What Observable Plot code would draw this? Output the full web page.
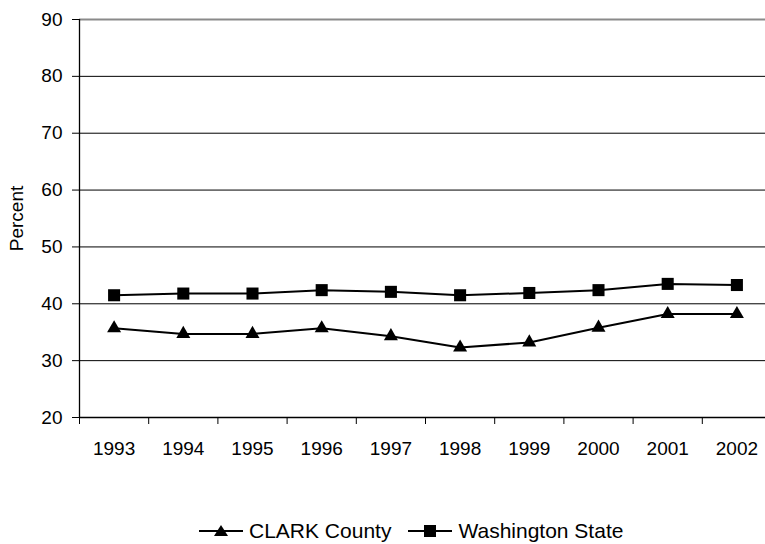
<!DOCTYPE html>
<html><head><meta charset="utf-8">
<script src="https://cdn.jsdelivr.net/npm/d3@7"></script>
<script src="https://cdn.jsdelivr.net/npm/@observablehq/plot@0.6"></script>
<style>
body{margin:0;background:#fff;font-family:"Liberation Sans",Arial,sans-serif;color:#000;}
#chart svg{overflow:hidden;display:block;}
#legend{box-sizing:border-box;height:74px;padding-top:48px;padding-left:199px;display:flex;align-items:center;}
#legend .item{display:flex;align-items:center;height:26px;font-size:21px;margin-right:17px;}
#legend svg{display:block;margin-right:6px;}
</style></head><body>
<div id="chart"></div>
<div id="legend"></div>
<script>
const years = [1993, 1994, 1995, 1996, 1997, 1998, 1999, 2000, 2001, 2002];
const clarkCounty = [35.7, 34.7, 34.7, 35.7, 34.3, 32.3, 33.2, 35.8, 38.2, 38.2];
const washingtonState = [41.5, 41.8, 41.8, 42.4, 42.1, 41.5, 41.9, 42.4, 43.5, 43.3];
const seriesNames = ["CLARK County", "Washington State"];
const yTicks = [20, 30, 40, 50, 60, 70, 80, 90];
const yLabel = "Percent";

const clarkData = years.map((y, i) => ({year: y, value: clarkCounty[i], series: seriesNames[0]}));
const waData = years.map((y, i) => ({year: y, value: washingtonState[i], series: seriesNames[1]}));
const boundaries = years.map(y => y - 0.5).concat([years[years.length - 1] + 0.5]);
const xDomain = [boundaries[0], boundaries[boundaries.length - 1]];

const chart = Plot.plot({
  width: 765,
  height: 470,
  marginLeft: 79,
  marginRight: 0,
  marginTop: 19,
  marginBottom: 53,
  style: {fontFamily: '"Liberation Sans", Arial, sans-serif', fontSize: "19px", color: "#000", background: "#fff"},
  x: {type: "linear", domain: xDomain, range: [79, 771]},
  y: {domain: [yTicks[0], yTicks[yTicks.length - 1]]},
  marks: [
    Plot.gridY(yTicks.slice(1, -1), {stroke: "#000", strokeOpacity: 1, strokeWidth: 1}),
    Plot.ruleY([yTicks[yTicks.length - 1]], {stroke: "#8a8a8a", strokeWidth: 2}),
    Plot.ruleX([xDomain[0]], {stroke: "#000", strokeWidth: 1.3}),
    Plot.ruleY([yTicks[0]], {stroke: "#000", strokeWidth: 1.5}),
    Plot.axisY(yTicks, {tickSize: 7, tickPadding: 10, fontSize: 19, label: yLabel, labelAnchor: "center", labelArrow: "none", labelOffset: 70}),
    Plot.axisX(boundaries, {tickSize: 7, tickFormat: () => "", label: null}),
    Plot.axisX(years, {tickSize: 0, tickPadding: 24, tickFormat: d => String(d), fontSize: 19, label: null}),
    Plot.line(clarkData, {x: "year", y: "value", stroke: "#000", strokeWidth: 2}),
    Plot.line(waData, {x: "year", y: "value", stroke: "#000", strokeWidth: 2}),
    Plot.dot(clarkData, {x: "year", y: "value", symbol: "triangle", r: 5.2, fill: "#000"}),
    Plot.dot(waData, {x: "year", y: "value", symbol: "square", r: 6.8, fill: "#000"})
  ]
});
document.getElementById("chart").appendChild(chart);

const legend = document.getElementById("legend");
const symbols = ['<polygon points="22,2 29,13 15,13" fill="#000"/>', '<rect x="16" y="2" width="12" height="12" fill="#000"/>'];
seriesNames.forEach((name, i) => {
  const item = document.createElement("div");
  item.className = "item";
  item.innerHTML = `<svg width="44" height="16"><line x1="0" y1="8" x2="44" y2="8" stroke="#000" stroke-width="2"/>${symbols[i]}</svg><span>${name}</span>`;
  legend.appendChild(item);
});
</script>
</body></html>
